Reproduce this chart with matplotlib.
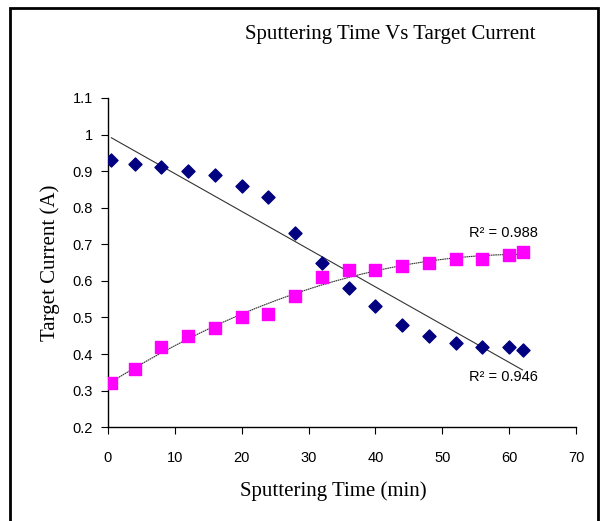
import numpy as np
import matplotlib
matplotlib.use("Agg")
import matplotlib.pyplot as plt
from matplotlib.patches import Rectangle

# Data
time_min = [0.5, 4, 8, 12, 16, 20, 24, 28, 32, 36, 40, 44, 48, 52, 56, 60, 62]
current_blue = [0.93, 0.92, 0.91, 0.90, 0.89, 0.86, 0.83, 0.73, 0.65, 0.58,
                0.53, 0.48, 0.45, 0.43, 0.42, 0.42, 0.41]
current_pink = [0.32, 0.36, 0.42, 0.45, 0.47, 0.50, 0.51, 0.56, 0.61, 0.63,
                0.63, 0.64, 0.65, 0.66, 0.66, 0.67, 0.68]
r2_blue = "R² = 0.946"
r2_pink = "R² = 0.988"

serif = "Liberation Serif"
sans = "Liberation Sans"

fig = plt.figure(figsize=(6.0, 5.21), dpi=100)
ax = fig.add_axes([0.18, 0.18, 0.78, 0.632])

# outer chart frame
fig.patches.append(Rectangle((10 / 600, -0.02), 588 / 600, 1 - 8 / 521 + 0.02,
                             transform=fig.transFigure, fill=False,
                             edgecolor="black", linewidth=2.0))

x = np.array(time_min)
ax.scatter(x, current_blue, marker="D", s=44, color="#000080", zorder=3)
ax.scatter(x, current_pink, marker="s", s=66, color="#FF00FF", zorder=3)

# trend lines: linear for blue, quadratic for pink
xx = np.linspace(x.min(), x.max(), 200)
lin = np.polyfit(x, current_blue, 1)
quad = np.polyfit(x, current_pink, 2)
ax.plot(xx, np.polyval(lin, xx), color="#333333", linewidth=0.8, zorder=2)
ax.plot(xx, np.polyval(quad, xx), color="#333333", linewidth=0.8,
        linestyle=(0, (1.5, 0.5)), zorder=2)

ax.text(64.3, 0.731, r2_pink, ha="right", va="center", fontsize=10.5, family=sans)
ax.text(64.3, 0.337, r2_blue, ha="right", va="center", fontsize=10.5, family=sans)

ax.set_xlim(0, 70)
ax.set_ylim(0.2, 1.1)
ax.set_xticks(range(0, 71, 10))
ax.set_yticks(np.round(np.arange(0.2, 1.11, 0.1), 1))
ax.set_yticklabels(["0.2", "0.3", "0.4", "0.5", "0.6", "0.7", "0.8", "0.9", "1", "1.1"])
for lab in ax.get_xticklabels() + ax.get_yticklabels():
    lab.set_family(sans)
    lab.set_fontsize(10.5)
ax.tick_params(direction="out", length=5, width=0.8, pad=12)
ax.tick_params(axis="y", pad=6)

for side in ["top", "right"]:
    ax.spines[side].set_visible(False)
for side in ["left", "bottom"]:
    ax.spines[side].set_linewidth(1.0)

ax.set_xlabel("Sputtering Time (min)", family=serif, fontsize=15)
ax.xaxis.set_label_coords(0.481, -0.163)
ax.set_ylabel("Target Current (A)", family=serif, fontsize=15, labelpad=9)
fig.text(390 / 600, 1 - 35 / 521, "Sputtering Time Vs Target Current",
         ha="center", va="center", family=serif, fontsize=15)

fig.savefig("out.png", dpi=100)
